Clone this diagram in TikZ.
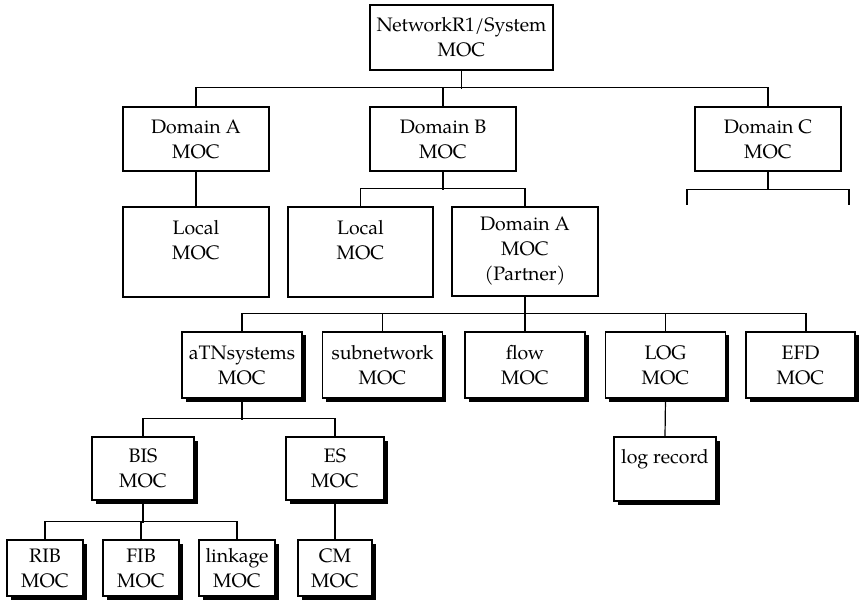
\documentclass[tikz,border=0pt]{standalone}
\usepackage{fontspec}
\setmainfont{TeX Gyre Pagella}
\usetikzlibrary{shadows}
\begin{document}
\begin{tikzpicture}[x=1pt,y=-1pt,
  moc/.style={draw, line width=1.2pt, fill=white, rectangle, align=center,
    inner sep=0pt, font=\fontsize{19.5pt}{25pt}\selectfont},
  mocs/.style={moc, drop shadow={shadow xshift=3.5pt, shadow yshift=-3.5pt,
    fill=black, opacity=1}},
  wire/.style={line width=1.2pt}]
\useasboundingbox (0,0) rectangle (859,609);

% top level
\node[moc, minimum width=183pt, minimum height=65pt] (net) at (461.5,37.5) {NetworkR1/System\\MOC};

% domains
\node[moc, minimum width=146pt, minimum height=64pt] (domA) at (196,139) {Domain A\\MOC};
\node[moc, minimum width=146pt, minimum height=64pt] (domB) at (443,139) {Domain B\\MOC};
\node[moc, minimum width=146pt, minimum height=64pt] (domC) at (768,139) {Domain C\\MOC};

% local managers and partner
\node[moc, minimum width=146pt, minimum height=90pt] (locA) at (196,252) {Local\\MOC\\\mbox{}};
\node[moc, minimum width=145pt, minimum height=90pt] (locB) at (360.5,252) {Local\\MOC\\\mbox{}};
\node[moc, minimum width=146pt, minimum height=89pt] (partner) at (525,251.5) {Domain A\\MOC\\(Partner)};

% managed object classes
\node[mocs, minimum width=120pt, minimum height=66pt] (atn) at (242,365) {aTNsystems\\MOC};
\node[mocs, minimum width=120pt, minimum height=66pt] (sub) at (382.5,365) {subnetwork\\MOC};
\node[mocs, minimum width=120pt, minimum height=66pt] (flow) at (525,365) {flow\\MOC};
\node[mocs, minimum width=120pt, minimum height=66pt] (log) at (665.5,365) {LOG\\MOC};
\node[mocs, minimum width=109pt, minimum height=66pt] (efd) at (800.5,365) {EFD\\MOC};

\node[mocs, minimum width=102pt, minimum height=64pt] (rec) at (665,469) {log record\\\mbox{}};
\node[mocs, minimum width=102pt, minimum height=63pt] (bis) at (143,468.5) {BIS\\MOC};
\node[mocs, minimum width=98pt, minimum height=63pt] (es) at (335,468.5) {ES\\MOC};

\node[mocs, minimum width=76pt, minimum height=56pt] (rib) at (45,568) {RIB\\MOC};
\node[mocs, minimum width=76pt, minimum height=56pt] (fib) at (141,568) {FIB\\MOC};
\node[mocs, minimum width=76pt, minimum height=56pt] (lnk) at (237,568) {linkage\\MOC};
\node[mocs, minimum width=74pt, minimum height=56pt] (cm) at (335,568) {CM\\MOC};

% connectors
\draw[wire] (net.south) -- ++(0,18);
\draw[wire] (domA.north) -- ++(0,-19) -| (domC.north);
\draw[wire] (domB.north) -- ++(0,-19);

\draw[wire] (domA.south) -- (locA.north);

\draw[wire] (domB.south) -- ++(0,18);
\draw[wire] (locB.north) -- ++(0,-18) -| (partner.north);

\draw[wire] (domC.south) -- ++(0,18) coordinate (cbus);
\coordinate (cl) at (687,205);
\coordinate (cr) at (849,205);
\draw[wire] (cl) |- (cbus) -| (cr);

\draw[wire] (partner.south) -- ++(0,18);
\coordinate (efdtop) at ([xshift=5.5pt]efd.north);
\draw[wire] (atn.north) -- ++(0,-18) -| (efdtop);
\draw[wire] (sub.north) -- ++(0,-18);
\draw[wire] (flow.north) -- ++(0,-18);
\draw[wire] (log.north) -- ++(0,-18);

\draw[wire] (log.south) -- (rec.north);

\draw[wire] (atn.south) -- ++(0,21);
\draw[wire] (bis.north) -- ++(0,-18) -| (es.north);

\draw[wire] (bis.south) -- ++(0,22);
\draw[wire] (rib.north) -- ++(0,-18) -| (lnk.north);
\draw[wire] (fib.north) -- ++(0,-18);

\draw[wire] (es.south) -- (cm.north);
\end{tikzpicture}
\end{document}
